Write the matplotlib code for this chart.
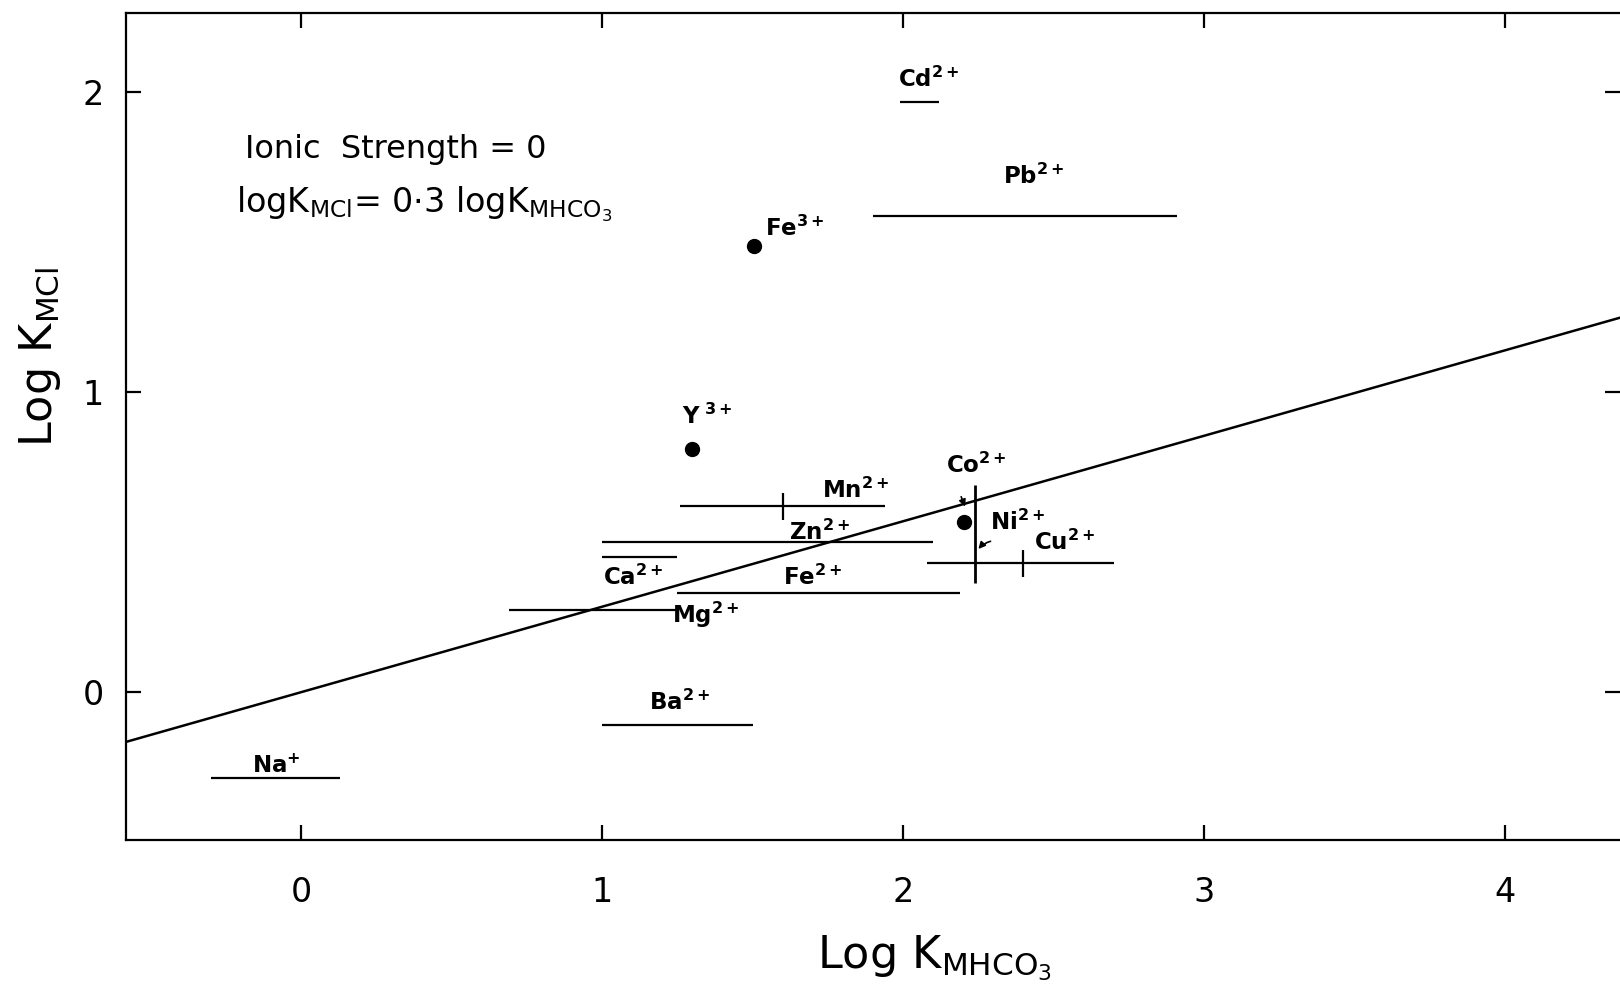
import matplotlib.pyplot as plt

plt.rcParams['font.family'] = ['DejaVu Sans']
plt.rcParams['mathtext.fontset'] = 'dejavusans'
plt.rcParams['mathtext.default'] = 'regular'

# Ranges of log K values (horizontal bars): ion, x_start, x_end, y
range_ions = ['Cd', 'Pb', 'Mn', 'Zn', 'Ca', 'Fe2', 'Mg', 'Ba', 'Na', 'Cu']
range_x0 = [1.99, 1.90, 1.26, 1.00, 1.00, 1.25, 0.69, 1.00, -0.30, 2.08]
range_x1 = [2.12, 2.91, 1.94, 2.10, 1.25, 2.19, 1.25, 1.50, 0.13, 2.70]
range_y = [1.966, 1.587, 0.620, 0.499, 0.451, 0.330, 0.275, -0.110, -0.286, 0.430]

# marked individual values on the Mn and Cu bars
tick_ions = ['Mn', 'Cu']
tick_x = [1.60, 2.40]
tick_y = [0.620, 0.430]

# Co/Ni vertical range
coni_x = 2.24
coni_y = [0.365, 0.690]

# single points
point_ions = ['Fe3', 'Y', 'Ni']
point_x = [1.504, 1.298, 2.204]
point_y = [1.487, 0.809, 0.568]

# fitted line
fit_x = [-0.58, 4.39]
fit_y = [-0.165, 1.25]

# label text and where it sits (left, baseline) in data units
labels = {
    'Cd': (r'$\mathbf{Cd}^{\mathbf{2+}}$', 1.982, 2.017),
    'Pb': (r'$\mathbf{Pb}^{\mathbf{2+}}$', 2.331, 1.694),
    'Fe3': (r'$\mathbf{Fe}^{\mathbf{3+}}$', 1.542, 1.522),
    'Y': (r'$\mathbf{Y}^{\ \mathbf{3+}}$', 1.267, 0.895),
    'Mn': (r'$\mathbf{Mn}^{\mathbf{2+}}$', 1.730, 0.647),
    'Co': (r'$\mathbf{Co}^{\mathbf{2+}}$', 2.142, 0.730),
    'Ni': (r'$\mathbf{Ni}^{\mathbf{2+}}$', 2.290, 0.540),
    'Zn': (r'$\mathbf{Zn}^{\mathbf{2+}}$', 1.621, 0.506),
    'Cu': (r'$\mathbf{Cu}^{\mathbf{2+}}$', 2.434, 0.475),
    'Ca': (r'$\mathbf{Ca}^{\mathbf{2+}}$', 1.003, 0.358),
    'Fe2': (r'$\mathbf{Fe}^{\mathbf{2+}}$', 1.600, 0.358),
    'Mg': (r'$\mathbf{Mg}^{\mathbf{2+}}$', 1.233, 0.231),
    'Ba': (r'$\mathbf{Ba}^{\mathbf{2+}}$', 1.157, -0.059),
    'Na': (r'$\mathbf{Na}^{\mathbf{+}}$', -0.165, -0.268),
}

fig = plt.figure(figsize=(16.2, 9.99), dpi=100)
ax = fig.add_axes([0.0778, 0.159, 0.9222, 0.8276])

ax.plot(fit_x, fit_y, color='black', lw=1.8)
ax.hlines(range_y, range_x0, range_x1, color='black', lw=1.6)
ax.vlines(tick_x, [y - 0.045 for y in tick_y], [y + 0.045 for y in tick_y], color='black', lw=1.6)
ax.vlines(coni_x, coni_y[0], coni_y[1], color='black', lw=2.0)
ax.plot(point_x, point_y, 'o', color='black', ms=10)

for key, (txt, lx, ly) in labels.items():
    ax.text(lx, ly, txt, fontsize=16.5, ha='left', va='baseline')

# small arrows from Co and Ni labels to the vertical bar
ax.annotate('', xy=(2.21, 0.61), xytext=(2.19, 0.66),
            arrowprops=dict(arrowstyle='-|>', color='black', lw=1.2, mutation_scale=10))
ax.annotate('', xy=(2.245, 0.47), xytext=(2.30, 0.505),
            arrowprops=dict(arrowstyle='-|>', color='black', lw=1.2, mutation_scale=10,
                            connectionstyle='arc3,rad=0.2'))

ax.text(-0.185, 1.78, 'Ionic  Strength = 0', fontsize=23, ha='left', va='baseline')
ax.text(-0.216, 1.60, r'logK$_{MCl}$= 0$\cdot$3 logK$_{MHCO_3}$', fontsize=24,
        ha='left', va='baseline')

ax.set_xlim(-0.582, 4.383)
ax.set_ylim(-0.493, 2.262)
ax.set_xticks([0, 1, 2, 3, 4])
ax.set_yticks([0, 1, 2])
ax.tick_params(direction='in', length=11, width=1.6, top=True, right=True,
               labelsize=24, pad=16)
ax.tick_params(axis='x', pad=26)
for side in ['left', 'top', 'bottom']:
    ax.spines[side].set_linewidth(1.6)
ax.spines['right'].set_visible(False)

ax.set_xlabel(r'Log K$_{MHCO_3}$', fontsize=32)
ax.set_ylabel(r'Log K$_{MCl}$', fontsize=32)
ax.xaxis.set_label_coords(0.541, -0.112)
ax.yaxis.set_label_coords(-0.042, 0.585)

fig.savefig('out.png', dpi=100)
